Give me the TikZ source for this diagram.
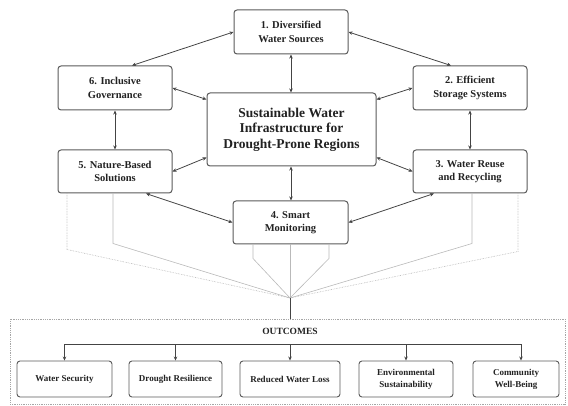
\documentclass[tikz,border=0pt]{standalone}
\usepackage{fontspec}
\setmainfont{Liberation Serif}
\usetikzlibrary{arrows.meta,calc}
\definecolor{boxline}{HTML}{5A5A5A}
\definecolor{conn}{HTML}{444444}
\definecolor{txt}{HTML}{222222}
\tikzset{
  pbox/.style={draw=boxline,line width=1pt,rounded corners=3pt,fill=white,align=center,
    minimum width=114pt,minimum height=44pt,inner sep=2pt,text=txt,
    font=\bfseries\fontsize{10.5}{13.5}\selectfont},
  cbox/.style={pbox,minimum width=169pt,minimum height=73pt,
    font=\bfseries\fontsize{13.5}{15.5}\selectfont},
  obox/.style={draw=boxline,line width=0.9pt,rounded corners=3pt,fill=white,align=center,
    minimum height=36pt,inner sep=1pt,text=txt,
    font=\bfseries\fontsize{9}{12}\selectfont},
  biarrow/.style={draw=conn,line width=0.8pt,{Stealth[length=4pt,width=3.5pt]}-{Stealth[length=4pt,width=3.5pt]}},
  downarrow/.style={draw=conn,line width=0.8pt,-{Stealth[length=4pt,width=3.5pt]}},
  feed/.style={draw=gray!55,line width=0.6pt},
  feeddot/.style={draw=gray!60,line width=0.6pt,densely dotted},
  outframe/.style={draw=gray!70,line width=0.8pt,densely dotted,minimum width=555pt,minimum height=85pt}
}
\begin{document}
\begin{tikzpicture}[x=1pt,y=-1pt]
\useasboundingbox (0,0) rectangle (568,406);
% outcomes frame
\node[outframe] (out) at (287.5,361.5) {};
% main nodes
\node[cbox] (c) at (291.5,129.5) {Sustainable Water\\Infrastructure for\\Drought-Prone Regions};
\node[pbox] (b1) at (291,32) {1. Diversified\\Water Sources};
\node[pbox] (b2) at (470,88) {2. Efficient\\Storage Systems};
\node[pbox,minimum height=43pt] (b3) at (470,171.5) {3. Water Reuse\\and Recycling};
\node[pbox,minimum height=43pt,minimum width=115pt] (b4) at (290.5,222.5) {4. Smart\\Monitoring};
\node[pbox,minimum height=43pt] (b5) at (115,171.5) {5. Nature-Based\\Solutions};
\node[pbox] (b6) at (115,88) {6. Inclusive\\Governance};
% connectors
\draw[biarrow] (b1.west) -- ([xshift=17pt]b6.north);
\draw[biarrow] (b1.east) -- ([xshift=-19pt]b2.north);
\draw[biarrow] (b1.south) -- (b1.south |- c.north);
\draw[biarrow] (b6.east) -- ([yshift=-7pt]c.north west);
\draw[biarrow] (b5.east) -- ([yshift=9pt]c.south west);
\draw[biarrow] (b2.west) -- ([yshift=-7pt]c.north east);
\draw[biarrow] (b3.west) -- ([yshift=9pt]c.south east);
\draw[biarrow] (b6.south) -- (b5.north);
\draw[biarrow] (b2.south) -- (b3.north);
\draw[biarrow] (c.south -| b1.south) -- (b4.north -| b1.south);
\draw[biarrow] ([xshift=31pt]b5.south) -- (b4.west);
\draw[biarrow] ([xshift=-36pt]b3.south) -- (b4.east);
% feed lines to outcomes
\coordinate (m) at (290,298);
\draw[feeddot] ([xshift=-48pt]b5.south) -- ++(0,56) -- (m);
\draw[feed] ([xshift=-2pt]b5.south) -- ++(0,50) -- (m);
\draw[feed] ([xshift=-37.5pt]b4.south) -- ++(0,14) -- (m);
\draw[feed] (b4.south -| m) -- (m);
\draw[feed] ([xshift=38.5pt]b4.south) -- ++(0,14) -- (m);
\draw[feed] ([xshift=2pt]b3.south) -- ++(0,50) -- (m);
\draw[feeddot] ([xshift=48pt]b3.south) -- ++(0,58) -- (m);
\draw[draw=conn,line width=0.8pt] (m) -- (m |- out.north);
% outcomes
\node[font=\bfseries\fontsize{9.5}{11}\selectfont,text=txt] (olabel) at (290,331) {OUTCOMES};
\node[obox,minimum width=95pt] (o1) at (64.5,379) {Water Security};
\node[obox,minimum width=93pt] (o2) at (175.5,379) {Drought Resilience};
\node[obox,minimum width=100pt] (o3) at (290,379) {Reduced Water Loss};
\node[obox,minimum width=94pt] (o4) at (406,379) {Environmental\\Sustainability};
\node[obox,minimum width=86pt] (o5) at (516,379) {Community\\Well-Being};
\coordinate (busL) at (64.5,344);
\coordinate (busR) at (521,344);
\draw[draw=conn,line width=0.8pt] (busL) -- (busR);
\draw[downarrow] (busL) -- (o1.north);
\draw[downarrow] (o2.north |- busL) -- (o2.north);
\draw[downarrow] (o3.north |- busL) -- (o3.north);
\draw[downarrow] (o4.north |- busL) -- (o4.north);
\draw[downarrow] (busR) -- (busR |- o5.north);
\end{tikzpicture}
\end{document}
